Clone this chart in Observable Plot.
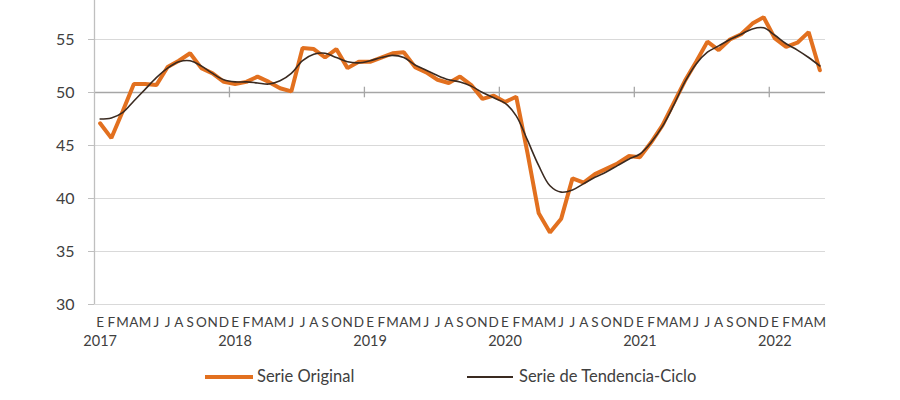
<!DOCTYPE html>
<html>
<head>
<meta charset="utf-8">
<script src="https://cdn.jsdelivr.net/npm/d3@7"></script>
<script src="https://cdn.jsdelivr.net/npm/@observablehq/plot@0.6"></script>
<style>
  html, body { margin: 0; padding: 0; background: #fff; }
  #wrap { width: 900px; height: 400px; position: relative; font-family: Lato, "Open Sans", sans-serif; }
  #legend { position: relative; width: 900px; height: 40px; color: #404040; font-size: 16.5px; }
  #legend .sw { position: absolute; }
  #legend .lb { position: absolute; top: 6px; }
</style>
</head>
<body>
<div id="wrap"></div>
<script>
const months = ["E","F","M","A","M","J","J","A","S","O","N","D"];
const years = ["2017","2018","2019","2020","2021","2022"];
const yTicks = [30, 35, 40, 45, 50, 55];
const seriesNames = ["Serie Original", "Serie de Tendencia-Ciclo"];
const seriesColors = ["#E2701F", "#3A2A20"];

const original = [
  47.1, 45.7, 48.2, 50.8, 50.8, 50.7, 52.4, 53.0, 53.7, 52.3, 51.8, 51.0,
  50.8, 51.0, 51.5, 51.0, 50.4, 50.1, 54.2, 54.1, 53.3, 54.1, 52.3, 52.9,
  52.9, 53.3, 53.7, 53.8, 52.4, 51.9, 51.2, 50.9, 51.5, 50.7, 49.4, 49.7,
  49.1, 49.6, 44.3, 38.6, 36.8, 38.1, 41.9, 41.5, 42.3, 42.8, 43.3, 44.0,
  43.9, 45.3, 46.9, 49.0, 51.1, 52.9, 54.8, 54.0, 55.0, 55.5, 56.5, 57.1,
  55.1, 54.3, 54.7, 55.7, 52.1
];
const trend = [
  47.5, 47.6, 48.1, 49.2, 50.3, 51.4, 52.3, 52.9, 53.0, 52.5, 51.8, 51.2,
  51.0, 51.0, 50.9, 50.8, 51.1, 51.8, 53.0, 53.6, 53.7, 53.3, 52.9, 52.8,
  53.0, 53.3, 53.5, 53.3, 52.6, 52.1, 51.6, 51.2, 51.0, 50.6, 50.0, 49.5,
  49.0, 47.8, 45.5, 43.1, 41.2, 40.6, 40.8, 41.4, 42.0, 42.5, 43.1, 43.7,
  44.2, 45.3, 46.8, 48.8, 51.0, 52.7, 53.8, 54.4, 55.0, 55.5, 56.0, 56.1,
  55.4, 54.6, 54.0, 53.3, 52.5
];

const rows = original.map((v, i) => ({
  i, orig: v, trend: trend[i],
  month: months[i % 12],
  year: i % 12 === 0 ? years[i / 12] : ""
}));
const n = rows.length;
const yearBounds = d3.range(1, years.length).map(k => k * 12 - 0.5);
const gridVals = yTicks.filter(v => v !== 50);

const chart = Plot.plot({
  width: 900,
  height: 360,
  marginLeft: 94,
  marginRight: 75,
  marginTop: 0,
  marginBottom: 56,
  style: { fontFamily: "Lato, 'Open Sans', sans-serif", color: "#404040", background: "#fff" },
  x: { type: "linear", domain: [-0.5, n - 0.5], axis: null },
  y: { domain: [30, 58.68], axis: null },
  marks: [
    Plot.ruleY(gridVals, { x1: -0.5, x2: n - 0.5, stroke: "#d9d9d9", strokeWidth: 1 }),
    Plot.ruleY([50], { x1: -0.5, x2: n - 0.5, stroke: "#a6a6a6", strokeWidth: 1.3 }),
    Plot.ruleX(yearBounds, { y1: 49.5, y2: 50.5, stroke: "#a6a6a6", strokeWidth: 1.3 }),
    Plot.ruleX([-0.5], { y1: 30, y2: 58.68, stroke: "#bfbfbf", strokeWidth: 1.3 }),
    Plot.axisY(yTicks, { tickSize: 6, tickPadding: 14, fontSize: 16, stroke: "#bfbfbf", fill: "#404040" }),
    Plot.text(rows, { x: "i", text: "month", frameAnchor: "bottom", dy: 22, fontSize: 13.5, fill: "#404040" }),
    Plot.text(rows, { x: "i", text: "year", frameAnchor: "bottom", dy: 41, fontSize: 14.5, fill: "#404040" }),
    Plot.line(rows, { x: "i", y: "orig", stroke: seriesColors[0], strokeWidth: 4, strokeLinejoin: "miter" }),
    Plot.line(rows, { x: "i", y: "trend", stroke: seriesColors[1], strokeWidth: 1.6, curve: "catmull-rom" })
  ]
});

const wrap = document.getElementById("wrap");
wrap.appendChild(chart);

const legend = document.createElement("div");
legend.id = "legend";
legend.innerHTML = `
  <div class="sw" style="left:205px;top:15px;width:48px;height:4px;background:${seriesColors[0]}"></div>
  <div class="lb" style="left:257px">${seriesNames[0]}</div>
  <div class="sw" style="left:467px;top:16px;width:46px;height:2px;background:${seriesColors[1]}"></div>
  <div class="lb" style="left:519px">${seriesNames[1]}</div>`;
wrap.appendChild(legend);
</script>
</body>
</html>
